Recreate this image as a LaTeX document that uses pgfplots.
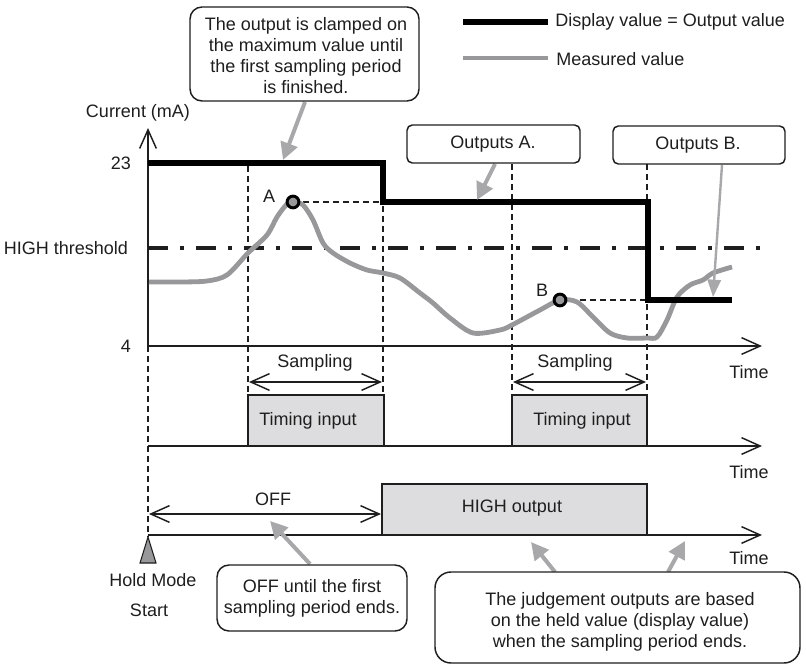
\documentclass[border=0pt]{standalone}
\usepackage{pgfplots}
\pgfplotsset{compat=1.18}
\usepackage{fontspec}
\setmainfont{Liberation Sans}
\usetikzlibrary{arrows.meta}
\definecolor{meas}{RGB}{152,152,155}
\definecolor{boxg}{RGB}{221,221,223}
\definecolor{callg}{RGB}{168,168,171}
\definecolor{ink}{RGB}{30,30,30}
\newcommand\ff{\fontsize{13.5}{15.75}\selectfont}
\begin{document}
\begin{tikzpicture}[
  ax/.style={ink,line width=1.1pt,-{Straight Barb[length=14pt,width=12.5pt,line width=1.1pt]}},
  dbl/.style={ink,line width=1.1pt,{Straight Barb[length=14pt,width=12.5pt,line width=1.1pt]}-{Straight Barb[length=14pt,width=12.5pt,line width=1.1pt]}},
  vd/.style={ink,line width=0.8pt,dash pattern=on 4.5pt off 3pt},
  call/.style={callg,line width=3pt,-{Triangle[length=13pt,width=13pt]}},
  bx/.style={draw=ink,line width=1.1pt,rounded corners=9pt,fill=white},
  txt/.style={font=\ff,text=ink,inner sep=0pt}
]
\begin{axis}[width=604.5pt,height=502.5pt,scale only axis,
  xmin=0,xmax=806,ymin=0,ymax=670,y dir=reverse,hide axis,clip=false]
\path (axis cs:0,0) rectangle (axis cs:806,670);

% vertical dashed guides
\addplot[vd] coordinates {(148,346)(148,537)};
\addplot[vd] coordinates {(248,166)(248,395)};
\addplot[vd] coordinates {(383,206)(383,395)};
\addplot[vd] coordinates {(512,164)(512,395)};
\addplot[vd] coordinates {(647,164)(647,395)};
\addplot[vd] coordinates {(293,202)(383,202)};
\addplot[vd] coordinates {(560,300)(647,300)};

% timing boxes and HIGH output box
\filldraw[fill=boxg,draw=ink,line width=1.1pt] (248,395) rectangle (384,446);
\filldraw[fill=boxg,draw=ink,line width=1.1pt] (512,395) rectangle (647,446);
\filldraw[fill=boxg,draw=ink,line width=1.1pt] (382,484) rectangle (647,535);

% axes
\draw[ax] (148,346) -- (148,128);
\draw[ax] (148,346) -- (762,346);
\draw[ax] (148,446) -- (762,446);
\draw[ax] (148,535) -- (762,535);

% double arrows
\draw[dbl] (249,382) -- (382,382);
\draw[dbl] (513,382) -- (646,382);
\draw[dbl] (149,514) -- (381,514);

% threshold
\addplot[ink,line width=3pt,dash pattern=on 15pt off 9pt on 3pt off 9pt] coordinates {(148,248)(760,248)};

% measured value
\addplot[meas,line width=3.6pt,smooth,tension=0.5] coordinates {
(149,282)(180,282)(207,281)(227,275)(248,253)(267,235)(277,217)(287,204)(293,202)(303,205)(313,220)(323,243)(333,253)(350,263)(367,270)(383,273)(400,278)(420,293)(433,303)(450,318)(473,333)(500,330)(512,325)(540,310)(560,300)(577,302)(593,317)(610,333)(627,338)(647,338)(657,337)(667,320)(677,297)(690,285)(703,280)(713,273)(732,267)};

% display/output value
\addplot[black,line width=4.5pt,line join=miter] coordinates {(148,163)(383,163)(383,202)(648,202)(648,300)(732,300)};

% held points
\addplot[only marks,mark=*,mark size=4.4pt,mark options={fill=meas,draw=black,line width=2.2pt}] coordinates {(293,202)(560,300)};

% legend
\addplot[black,line width=4.5pt] coordinates {(463,22)(548,22)};
\addplot[meas,line width=3.6pt] coordinates {(463,58)(548,58)};
\node[txt,anchor=west] at (555,22) {Display value = Output value};
\node[txt,anchor=west] at (556,59) {Measured value};

% callout arrows
\draw[call] (305,102) -- (283,160);
\draw[call] (495,164) -- (477,200);
\draw[callg,line width=1.8pt,-{Triangle[length=13pt,width=10pt]}] (722,165) -- (713,297);
\draw[call] (310,564) -- (270,521);
\draw[call] (555,572) -- (531,542);
\draw[call] (668,572) -- (685,541);

% callout boxes
\draw[bx] (190,7) rectangle (419,101);
\node[txt,align=center] at (306,56) {The output is clamped on\\the maximum value until\\the first sampling period\\is finished.};
\draw[bx,rounded corners=4pt] (407,125) rectangle (580,163);
\node[txt] at (493,144) {Outputs A.};
\draw[bx,rounded corners=4pt] (613,126) rectangle (785,164);
\node[txt] at (698,145) {Outputs B.};
\draw[bx] (217,565) rectangle (407,631);
\node[txt,align=center] at (312,598) {OFF until the first\\sampling period ends.};
\draw[bx,rounded corners=12pt] (435,572) rectangle (800,663);
\node[txt,align=center] at (620,622) {The judgement outputs are based\\on the held value (display value)\\when the sampling period ends.};

% hold mode start triangle
\filldraw[fill=meas,draw=ink,line width=0.8pt] (148,537) -- (156,563) -- (140,563) -- cycle;

% labels
\node[txt] at (138,113) {Current (mA)};
\node[txt] at (121,163) {23};
\node[txt] at (66,248) {HIGH threshold};
\node[txt] at (126,346) {4};
\node[txt] at (269,196) {A};
\node[txt] at (542,290) {B};
\node[txt] at (749,372) {Time};
\node[txt] at (749,472) {Time};
\node[txt] at (749,558) {Time};
\node[txt] at (315,363) {Sampling};
\node[txt] at (575,363) {Sampling};
\node[txt] at (308,421) {Timing input};
\node[txt] at (582,421) {Timing input};
\node[txt] at (273,499) {OFF};
\node[txt] at (512,508) {HIGH output};
\node[txt] at (153,580) {Hold Mode};
\node[txt] at (149,610) {Start};
\end{axis}
\end{tikzpicture}
\end{document}
